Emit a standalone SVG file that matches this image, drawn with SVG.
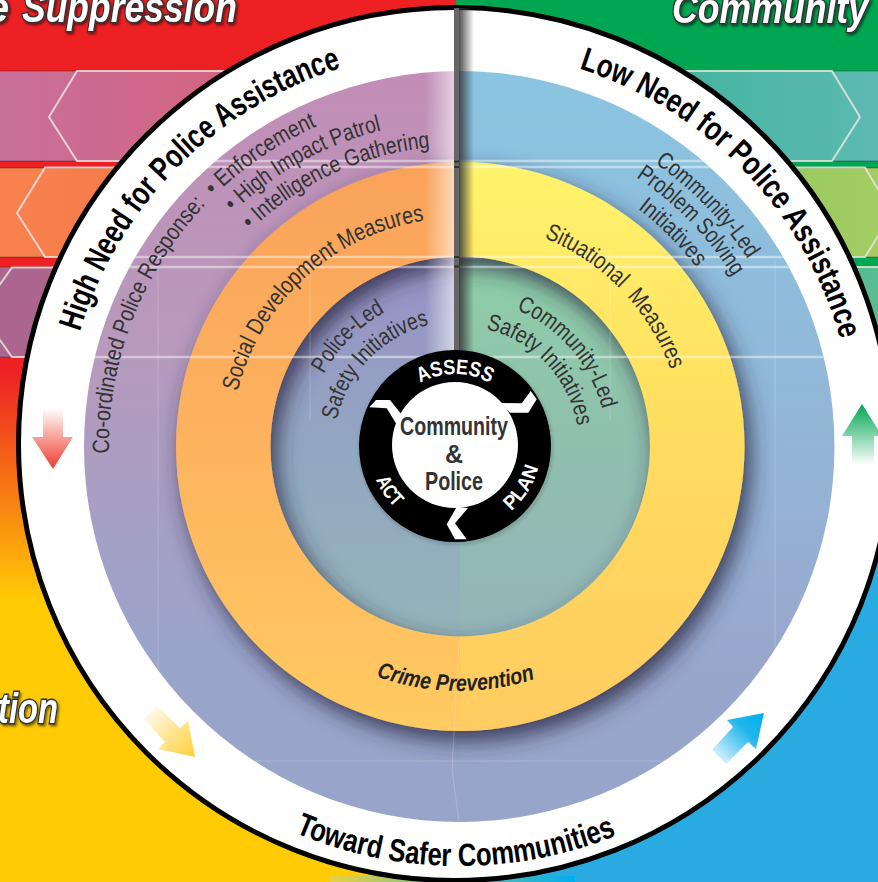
<svg xmlns="http://www.w3.org/2000/svg" xmlns:xlink="http://www.w3.org/1999/xlink" width="878" height="882" viewBox="0 0 878 882">
<style>
text{font-family:"Liberation Sans",Arial,sans-serif}
.title{font-weight:bold;font-style:italic;font-size:42px;fill:#fff;stroke:#333;stroke-width:3px;paint-order:stroke;filter:url(#ts)}
.big{font-weight:bold;font-size:33px;fill:#000}
.low{font-size:23.500px;fill:#333}
.mid{font-size:24px;fill:#333}
.crime{font-size:23px;font-weight:bold;font-style:italic;fill:#222}
.ring{font-weight:bold;fill:#fff}
.ctr{font-weight:bold;font-size:25px;fill:#333;text-anchor:middle}
.hex{fill:none;stroke:#e9e4e2;stroke-width:2;opacity:.85}
.edge{fill:none;stroke:#000;stroke-opacity:.3;stroke-width:1}
.xl{stroke:#fff;stroke-width:2.500;stroke-opacity:.45}
.fl{stroke:#fff;stroke-width:1;stroke-opacity:.2;fill:none}
</style>
<defs>
<filter id="ts" x="-10%" y="-30%" width="120%" height="160%"><feDropShadow dx="1.500" dy="2" stdDeviation="1" flood-color="#000" flood-opacity=".5"/></filter>
<filter id="rs" x="-15%" y="-15%" width="130%" height="130%"><feDropShadow dx="6" dy="10" stdDeviation="11" flood-color="#2c2c44" flood-opacity=".85"/></filter>
<filter id="bs" x="-20%" y="-20%" width="140%" height="140%"><feDropShadow dx="1" dy="2" stdDeviation="2" flood-color="#222" flood-opacity=".25"/></filter>
<linearGradient id="bgL" x1="0" y1="0" x2="0" y2="1"><stop offset="0" stop-color="#ed2024"/><stop offset=".42" stop-color="#ed2024"/><stop offset=".68" stop-color="#ffcb05"/><stop offset="1" stop-color="#ffcb05"/></linearGradient>
<linearGradient id="b1L"><stop offset="0" stop-color="#c8709a"/><stop offset="1" stop-color="#e0566b"/></linearGradient>
<linearGradient id="b2L"><stop offset="0" stop-color="#f8824e"/><stop offset="1" stop-color="#f2693c"/></linearGradient>
<linearGradient id="b3L"><stop offset="0" stop-color="#ab6690"/><stop offset="1" stop-color="#c15c78"/></linearGradient>
<linearGradient id="b1R"><stop offset="0" stop-color="#2cae8c"/><stop offset="1" stop-color="#5cbab2"/></linearGradient>
<linearGradient id="b2R"><stop offset="0" stop-color="#7fc04c"/><stop offset="1" stop-color="#a2cd62"/></linearGradient>
<linearGradient id="b3R"><stop offset="0" stop-color="#3db67a"/><stop offset="1" stop-color="#58bd90"/></linearGradient>
<linearGradient id="dL" gradientUnits="userSpaceOnUse" x1="0" y1="71" x2="0" y2="822"><stop offset="0" stop-color="#c28db6"/><stop offset=".35" stop-color="#b899bc"/><stop offset=".75" stop-color="#9ba3ca"/><stop offset="1" stop-color="#98a5cb"/></linearGradient>
<linearGradient id="dR" gradientUnits="userSpaceOnUse" x1="0" y1="71" x2="0" y2="822"><stop offset="0" stop-color="#8ac5e1"/><stop offset=".5" stop-color="#93b5d6"/><stop offset=".8" stop-color="#99a6cc"/><stop offset="1" stop-color="#98a5cb"/></linearGradient>
<linearGradient id="oL" gradientUnits="userSpaceOnUse" x1="0" y1="162" x2="0" y2="731"><stop offset="0" stop-color="#f9a25a"/><stop offset=".5" stop-color="#feb35e"/><stop offset="1" stop-color="#ffcb62"/></linearGradient>
<linearGradient id="oR" gradientUnits="userSpaceOnUse" x1="0" y1="162" x2="0" y2="731"><stop offset="0" stop-color="#fff36c"/><stop offset=".5" stop-color="#ffdc5e"/><stop offset="1" stop-color="#ffcb62"/></linearGradient>
<linearGradient id="iL" gradientUnits="userSpaceOnUse" x1="0" y1="257" x2="0" y2="636"><stop offset="0" stop-color="#9a8fc5"/><stop offset=".5" stop-color="#92a7c2"/><stop offset="1" stop-color="#94b4b8"/></linearGradient>
<linearGradient id="iR" gradientUnits="userSpaceOnUse" x1="0" y1="257" x2="0" y2="636"><stop offset="0" stop-color="#8dcea6"/><stop offset=".5" stop-color="#90bfae"/><stop offset="1" stop-color="#94b4b8"/></linearGradient>
<linearGradient id="fadeL"><stop offset="0" stop-color="#fff" stop-opacity="0"/><stop offset="1" stop-color="#fff" stop-opacity=".6"/></linearGradient>
<linearGradient id="fadeR"><stop offset="0" stop-color="#333" stop-opacity=".85"/><stop offset="1" stop-color="#333" stop-opacity="0"/></linearGradient>
<linearGradient id="aR" x1="0" y1="0" x2="0" y2="1"><stop offset="0" stop-color="#fff"/><stop offset="1" stop-color="#ef3b2c"/></linearGradient>
<linearGradient id="aG" x1="0" y1="0" x2="0" y2="1"><stop offset="0" stop-color="#00a651"/><stop offset="1" stop-color="#fff"/></linearGradient>
<linearGradient id="aY" x1="0" y1="0" x2="1" y2="1"><stop offset="0" stop-color="#fff"/><stop offset="1" stop-color="#ffcf33"/></linearGradient>
<linearGradient id="aB" x1="0" y1="1" x2="1" y2="0"><stop offset="0" stop-color="#fff"/><stop offset=".65" stop-color="#22b6ec"/><stop offset="1" stop-color="#00aeef"/></linearGradient>
<linearGradient id="btm"><stop offset="0" stop-color="#e8d040"/><stop offset="1" stop-color="#00aeef"/></linearGradient>
<clipPath id="dc"><circle cx="459" cy="446.500" r="375.500"/></clipPath>
<path id="r396" d="M-396 0A396 396 0 1 1 396 0A396 396 0 1 1 -396 0"/>
<path id="r228" d="M-228 0A228 228 0 1 1 228 0A228 228 0 1 1 -228 0"/>
<path id="r225" d="M-225 0A225 225 0 1 1 225 0A225 225 0 1 1 -225 0"/>
<path id="r350" d="M-350 0A350 350 0 1 1 350 0A350 350 0 1 1 -350 0"/>
<path id="r325" d="M-325 0A325 325 0 1 1 325 0A325 325 0 1 1 -325 0"/>
<path id="r300" d="M-300 0A300 300 0 1 1 300 0A300 300 0 1 1 -300 0"/>
<path id="r344" d="M-344 0A344 344 0 1 1 344 0A344 344 0 1 1 -344 0"/>
<path id="r322" d="M-322 0A322 322 0 1 1 322 0A322 322 0 1 1 -322 0"/>
<path id="r297" d="M-297 0A297 297 0 1 1 297 0A297 297 0 1 1 -297 0"/>
<path id="r153" d="M-153 0A153 153 0 1 1 153 0A153 153 0 1 1 -153 0"/>
<path id="r125" d="M-125 0A125 125 0 1 1 125 0A125 125 0 1 1 -125 0"/>
<path id="r148" d="M-148 0A148 148 0 1 1 148 0A148 148 0 1 1 -148 0"/>
<path id="r120" d="M-120 0A120 120 0 1 1 120 0A120 120 0 1 1 -120 0"/>
<path id="b420" d="M-420 0A420 420 0 0 0 420 0"/>
<path id="b245" d="M-245 0A245 245 0 0 0 245 0"/>
<path id="r72" d="M-72 0A72 72 0 1 1 72 0"/>
<path id="b86" d="M-86 0A86 86 0 0 0 86 0"/>
</defs>

<g id="background">
<rect x="0" y="0" width="456" height="882" fill="url(#bgL)"/>
<rect x="456" y="0" width="422" height="450" fill="#00a651"/>
<rect x="456" y="450" width="422" height="432" fill="#29abe2"/>
<rect x="330" y="876" width="245" height="6" fill="url(#btm)"/>
</g>
<g id="bands-left">
<rect x="0" y="71" width="460" height="90" fill="url(#b1L)"/>
<rect x="0" y="168" width="460" height="89" fill="url(#b2L)"/>
<rect x="0" y="267" width="460" height="90" fill="url(#b3L)"/>
<path class="edge" d="M0 71H460M0 161H460M0 168H460M0 257H460M0 267H460M0 357H460"/>
<path class="hex" d="M300 71H77L49 117L77 161H300"/>
<path class="hex" d="M200 167.500H45L17 213L45 257H200"/>
<path class="hex" d="M100 267.500H12L-20 312L12 357H100"/>
</g>
<g id="bands-right">
<rect x="460" y="71" width="418" height="90" fill="url(#b1R)"/>
<rect x="460" y="168" width="418" height="89" fill="url(#b2R)"/>
<rect x="460" y="267" width="418" height="90" fill="url(#b3R)"/>
<path class="edge" d="M460 71H878M460 161H878M460 168H878M460 257H878M460 267H878"/>
<path class="hex" d="M600 71H832L860 117L832 161H600"/>
<path class="hex" d="M700 167.500H865L892 213L865 257H700"/>
<path d="M800 267H878" stroke="#e9e4e2" stroke-width="2" opacity=".85"/>
</g>
<g id="titles">
<text class="title" x="9" y="22" text-anchor="end">e</text>
<text class="title" x="22" y="22" textLength="215" lengthAdjust="spacingAndGlyphs">Suppression</text>
<text class="title" x="672" y="23" textLength="196" lengthAdjust="spacingAndGlyphs">Community</text>
<text class="title" x="-2" y="723" textLength="60" lengthAdjust="spacingAndGlyphs">tion</text>
</g>

<g id="outer-ring"><circle cx="455" cy="444" r="436.500" fill="#fff" stroke="#000" stroke-width="5"/></g>

<g id="disc-outer">
<path d="M459.500 71A375.500 375.500 0 0 0 459.500 822Z" fill="url(#dL)"/>
<path d="M459 71A375.500 375.500 0 0 1 459 822Z" fill="url(#dR)"/>
</g>
<g id="disc-inner">
<path d="M460.500 256A190.500 190.500 0 0 0 460.500 637Z" fill="url(#iL)"/>
<path d="M460 256A190.500 190.500 0 0 1 460 637Z" fill="url(#iR)"/>
</g>
<g id="ring-prevention" filter="url(#rs)">
<path d="M460.500 162A284.500 284.500 0 0 0 460.500 731L460.500 636.500A190 190 0 0 1 460.500 256.500Z" fill="url(#oL)"/>
<path d="M460 162A284.500 284.500 0 0 1 460 731L460 636.500A190 190 0 0 0 460 256.500Z" fill="url(#oR)"/>
</g>

<g id="overlay-lines">
<g clip-path="url(#dc)">
<path class="xl" d="M83 161H835M83 167H835M83 257H835M83 267H835M83 357H835"/>
<path class="fl" d="M158 240V760M775 260V760M255 761H775M459 640L452 770L459 822M610 250V420M310 250V420"/>
</g>
<rect x="425" y="71" width="30" height="282" fill="url(#fadeL)"/>
<rect x="459" y="8" width="15" height="345" fill="url(#fadeR)"/>
<rect x="454" y="8" width="5" height="345" fill="#666"/>
<path d="M454 161.500H459M454 167H459M454 257H459M454 266.500H459" stroke="#333" stroke-width="2"/>
</g>

<g id="arrows">
<polygon id="arrow-red" points="43,408 63,408 63,437 73,437 53,469 32,437 43,437" fill="url(#aR)"/>
<polygon id="arrow-green" points="862,404 882,436 874,436 874,465 852,465 852,436 842,436" fill="url(#aG)"/>
<polygon id="arrow-yellow" points="144,719 157,706 180,728 188,721 195,757 158,749 165,742" fill="url(#aY)"/>
<polygon id="arrow-blue" points="764,713 727,720 733,727 712,750 726,764 748,742 756,749" fill="url(#aB)"/>
</g>

<g id="hub" filter="url(#bs)">
<circle cx="455" cy="446" r="96" fill="#000"/>
<circle cx="455" cy="445" r="63" fill="#fff"/>
<polygon points="369.300,407.300 376,400 390,400 402,415 397,425 386.700,408.300" fill="#fff"/>
<polygon points="530.700,391 536.700,399.300 528.300,412.700 510,412.700 501,403 521.700,403.300" fill="#fff"/>
<polygon points="468,508 455,523.300 466.700,539.300 455,539.300 446.700,524.300 456.700,507" fill="#fff"/>
</g>
<g id="hub-labels">
<g transform="translate(455 446)">
<text class="ring" font-size="21"><textPath href="#r72" startOffset="76.600" textLength="73" lengthAdjust="spacingAndGlyphs">ASSESS</textPath></text>
<text class="ring" font-size="20"><textPath href="#b86" startOffset="34.500" textLength="34" lengthAdjust="spacingAndGlyphs">ACT</textPath></text>
<text class="ring" font-size="20"><textPath href="#b86" startOffset="196" textLength="52" lengthAdjust="spacingAndGlyphs">PLAN</textPath></text>
</g>
<text class="ctr" x="454" y="435" textLength="108" lengthAdjust="spacingAndGlyphs">Community</text>
<text class="ctr" x="454" y="463">&amp;</text>
<text class="ctr" x="454" y="490" textLength="58" lengthAdjust="spacingAndGlyphs">Police</text>
</g>

<g id="arc-labels" transform="translate(459 446)">
<text class="big"><textPath href="#r396" startOffset="116" textLength="386" lengthAdjust="spacingAndGlyphs">High Need for Police Assistance</textPath></text>
<text class="big"><textPath href="#r396" startOffset="743.700" textLength="392" lengthAdjust="spacingAndGlyphs">Low Need for Police Assistance</textPath></text>
<text class="big" style="font-size:32px"><textPath href="#b420" startOffset="491" textLength="330" lengthAdjust="spacingAndGlyphs">Toward Safer Communities</textPath></text>
<text class="crime"><textPath href="#b245" startOffset="300" textLength="162" lengthAdjust="spacingAndGlyphs">Crime Prevention</textPath></text>
<text class="mid"><textPath href="#r228" startOffset="55" textLength="268" lengthAdjust="spacingAndGlyphs">Social Development Measures</textPath></text>
<text class="mid"><textPath href="#r225" startOffset="440.600" textLength="188" lengthAdjust="spacingAndGlyphs" xml:space="preserve">Situational  Measures</textPath></text>
<text class="low" transform="rotate(-1.200)"><textPath href="#r350" startOffset="0" textLength="274" lengthAdjust="spacingAndGlyphs">Co-ordinated Police Response:</textPath></text>
<text class="low"><textPath href="#r350" startOffset="278" textLength="125" lengthAdjust="spacingAndGlyphs">• Enforcement</textPath></text>
<text class="low"><textPath href="#r325" startOffset="261" textLength="171" lengthAdjust="spacingAndGlyphs">• High Impact Patrol</textPath></text>
<text class="low"><textPath href="#r300" startOffset="241" textLength="201" lengthAdjust="spacingAndGlyphs">• Intelligence Gathering</textPath></text>
<text class="low"><textPath href="#r344" startOffset="748.700" textLength="134" lengthAdjust="spacingAndGlyphs">Community-Led</textPath></text>
<text class="low"><textPath href="#r322" startOffset="693" textLength="140" lengthAdjust="spacingAndGlyphs">Problem Solving</textPath></text>
<text class="low"><textPath href="#r297" startOffset="658" textLength="83" lengthAdjust="spacingAndGlyphs">Initiatives</textPath></text>
<text class="low"><textPath href="#r153" startOffset="74.800" textLength="88" lengthAdjust="spacingAndGlyphs">Police-Led</textPath></text>
<text class="low"><textPath href="#r125" startOffset="26" textLength="140" lengthAdjust="spacingAndGlyphs">Safety Initiatives</textPath></text>
<text class="low"><textPath href="#r148" startOffset="291.400" textLength="136" lengthAdjust="spacingAndGlyphs">Community-Led</textPath></text>
<text class="low"><textPath href="#r120" startOffset="215.700" textLength="141" lengthAdjust="spacingAndGlyphs">Safety Initiatives</textPath></text>
</g>
</svg>
